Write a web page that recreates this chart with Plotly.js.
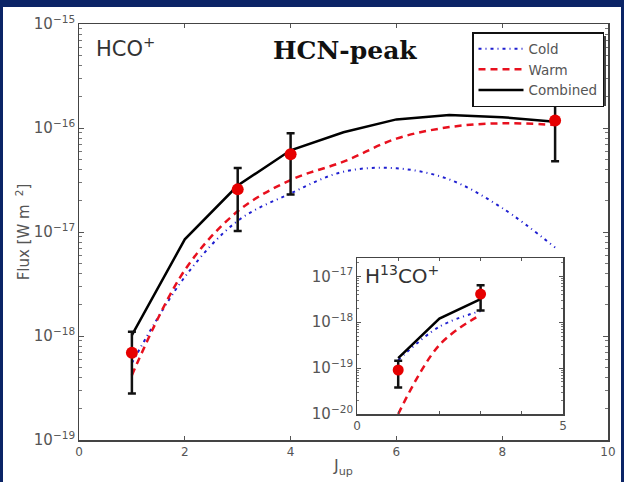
<!DOCTYPE html>
<html><head><meta charset="utf-8">
<script src="https://cdn.plot.ly/plotly-3.0.1.min.js"></script>
<style>
html,body{margin:0;padding:0;background:#fff;}
#wrap{width:624px;height:482px;box-sizing:border-box;border-top:7px solid #0b2466;border-left:3px solid #0b2466;border-right:3px solid #0b2466;background:#fff;overflow:hidden;}
#plot{width:618px;height:475px;}
</style></head><body><div id="wrap"><div id="plot"></div></div>
<script>
// ---- HCO+ main panel (HCN-peak) ----
const jMain = [1, 2, 3, 4, 5, 6, 7, 8, 9];
const coldMain = [5.5e-19, 3.7e-18, 1.28e-17, 2.35e-17, 3.8e-17, 4.1e-17, 3.2e-17, 1.7e-17, 7.1e-18];
const warmMain = [4.2e-19, 4.3e-18, 1.58e-17, 3.16e-17, 4.75e-17, 7.9e-17, 1.02e-16, 1.11e-16, 1.07e-16];
const combMain = [1.02e-18, 8.5e-18, 2.8e-17, 6.1e-17, 9.1e-17, 1.21e-16, 1.33e-16, 1.27e-16, 1.15e-16];
const obsJ = [1, 3, 4, 9];
const obsFlux = [6.9e-19, 2.57e-17, 5.6e-17, 1.18e-16];
const obsErr = [4.1e-19, 1.55e-17, 3.3e-17, 7.0e-17];
// ---- H13CO+ inset ----
const jInset = [1, 2, 3];
const coldInset = [1.5e-19, 8.0e-19, 1.75e-18];
const warmInset = [1.0e-20, 3.2e-19, 1.45e-18];
const combInset = [1.65e-19, 1.2e-18, 3.2e-18];
const obsJInset = [1, 3];
const obsFluxInset = [9.1e-20, 4.1e-18];
const obsErrInset = [5.3e-20, 2.3e-18];
// tick labels
const xTicksMain = [0, 2, 4, 6, 8, 10];
const xTicksInset = [0, 5];

// geometry (image pixels -> paper)
const OX = 3, OY = 7;
const M = {l: 76, r: 13, t: 17, b: 42};
const W = 618, H = 475;
const PL = M.l, PR = W - M.r, PT = M.t, PB = H - M.b;
function px(x) { return (x - OX - PL) / (PR - PL); }
function py(y) { return (PB - (y - OY)) / (PB - PT); }

const cold = {color: '#1f1fd0', width: 2, dash: '3px,4px,1px,4px', shape: 'spline'};
const warm = {color: '#e8101e', width: 2.5, dash: '7px,5px', shape: 'spline'};
const comb = {color: '#000', width: 2.5};
const err = c => ({type: 'data', array: c, visible: true, color: '#111', thickness: 2.5, width: 4});
const mk = {color: '#e60000', size: 12};

const traces = [
  {x: jMain, y: coldMain, mode: 'lines', name: 'Cold', line: cold, legendgroup: 'a'},
  {x: jMain, y: warmMain, mode: 'lines', name: 'Warm', line: warm, legendgroup: 'b'},
  {x: jMain, y: combMain, mode: 'lines', name: 'Combined', line: comb, legendgroup: 'c'},
  {x: obsJ, y: obsFlux, mode: 'markers', marker: mk, error_y: err(obsErr), showlegend: false},
  {x: jInset, y: coldInset, mode: 'lines', line: cold, xaxis: 'x2', yaxis: 'y2', showlegend: false},
  {x: jInset, y: warmInset, mode: 'lines', line: warm, xaxis: 'x2', yaxis: 'y2', showlegend: false},
  {x: jInset, y: combInset, mode: 'lines', line: comb, xaxis: 'x2', yaxis: 'y2', showlegend: false},
  {x: obsJInset, y: obsFluxInset, mode: 'markers', marker: {color: '#e60000', size: 11}, error_y: err(obsErrInset), xaxis: 'x2', yaxis: 'y2', showlegend: false}
];

const tickFont = {family: 'DejaVu Sans, sans-serif', size: 12, color: '#555'};
const axBase = {showline: true, linecolor: '#444', linewidth: 1.5, mirror: 'allticks', ticks: 'inside',
  tickcolor: '#555', showgrid: false, zeroline: false, tickfont: tickFont};

const layout = {
  width: W, height: H, margin: M,
  paper_bgcolor: '#fff', plot_bgcolor: '#fff',
  font: {family: 'DejaVu Sans, sans-serif', color: '#555'},
  showlegend: true,
  legend: {x: px(472), y: py(32), xanchor: 'left', yanchor: 'top', bgcolor: '#fff', bordercolor: '#111', borderwidth: 1.5,
    font: {family: 'DejaVu Sans, sans-serif', size: 13.5, color: '#555'}, traceorder: 'grouped', tracegroupgap: 0,
    itemwidth: 45},
  xaxis: Object.assign({}, axBase, {range: [0, 10], tickvals: xTicksMain, ticklen: 4,
    title: {text: 'J<sub>up</sub>', font: {size: 16, color: '#555'}, standoff: 2}}),
  yaxis: Object.assign({}, axBase, {type: 'log', range: [-19, -15], dtick: 1, exponentformat: 'power', ticklen: 5,
    minor: {ticks: 'inside', ticklen: 3, tickcolor: '#777', showgrid: false},
    title: {text: 'Flux [W m <sup> 2</sup>]', font: {size: 15, color: '#555'}, standoff: 0}}),
  xaxis2: Object.assign({}, axBase, {domain: [px(357), px(563)], anchor: 'y2', range: [0, 5], tickvals: xTicksInset, ticklen: 4,
    minor: {dtick: 1, ticks: 'inside', ticklen: 3, tickcolor: '#555', showgrid: false}}),
  yaxis2: Object.assign({}, axBase, {domain: [py(414), py(258)], anchor: 'x2', type: 'log', range: [-20, -16.6], dtick: 1, exponentformat: 'power', ticklen: 4,
    minor: {ticks: 'inside', ticklen: 2, tickcolor: '#777', showgrid: false}}),
  annotations: [
    {xref: 'paper', yref: 'paper', x: px(94), y: py(47), xanchor: 'left', yanchor: 'middle', showarrow: false,
      text: 'HCO<sup>+</sup>', font: {family: 'DejaVu Sans, sans-serif', size: 21, color: '#333'}},
    {xref: 'paper', yref: 'paper', x: px(345), y: py(50), xanchor: 'center', yanchor: 'middle', showarrow: false,
      text: '<b>HCN-peak</b>', font: {family: 'DejaVu Serif, serif', size: 25, color: '#111'}},
    {xref: 'paper', yref: 'paper', x: px(363), y: py(275), xanchor: 'left', yanchor: 'middle', showarrow: false,
      text: 'H<sup>13</sup>CO<sup>+</sup>', font: {family: 'DejaVu Sans, sans-serif', size: 20, color: '#333'}}
  ],
  shapes: [
    {type: 'rect', xref: 'paper', yref: 'paper', x0: px(476), x1: px(606), y0: py(106), y1: py(36), fillcolor: '#444', line: {width: 0}, layer: 'above'}
  ]
};
Plotly.newPlot('plot', traces, layout, {displayModeBar: false, staticPlot: true});
</script></body></html>
